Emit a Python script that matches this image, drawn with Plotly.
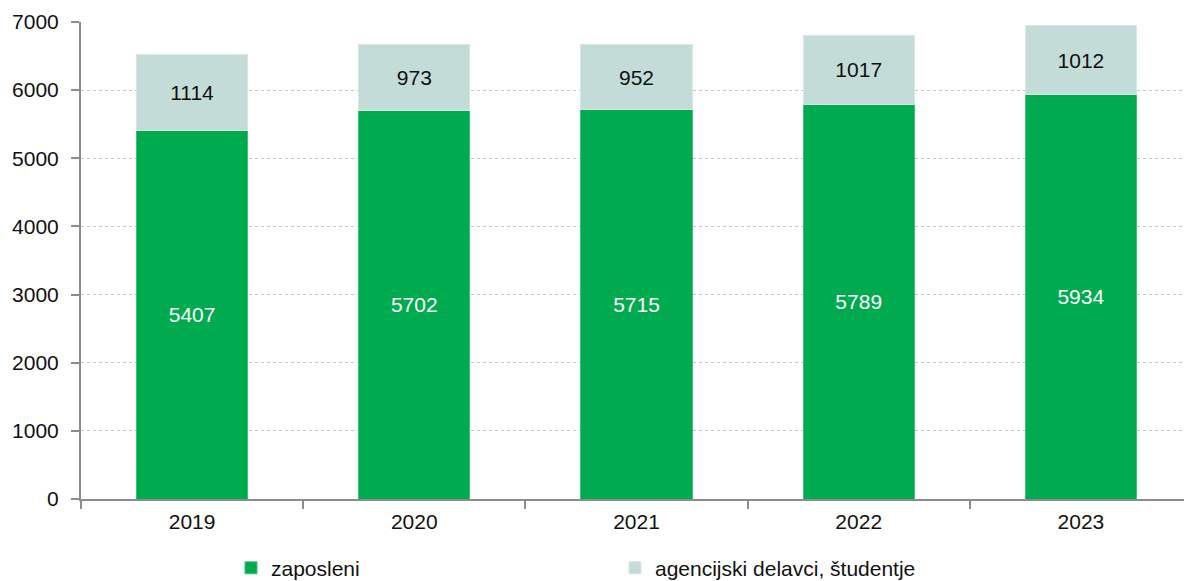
import plotly.graph_objects as go

years = ["2019", "2020", "2021", "2022", "2023"]
zaposleni = [5407, 5702, 5715, 5789, 5934]
agencijski = [1114, 973, 952, 1017, 1012]
series_names = ["zaposleni", "agencijski delavci, študentje"]
y_ticks = [0, 1000, 2000, 3000, 4000, 5000, 6000, 7000]

FONT = "Liberation Sans Narrow, Arial Narrow, Liberation Sans, Arial, sans-serif"
FS = 21

fig = go.Figure()
fig.add_trace(go.Bar(
    x=years, y=zaposleni, name=series_names[0],
    marker=dict(color="#00AA4E", line=dict(color="#3CC07A", width=1)),
    text=[str(v) for v in zaposleni], textposition="inside",
    insidetextanchor="middle",
    textfont=dict(color="white", size=FS, family=FONT),
))
fig.add_trace(go.Bar(
    x=years, y=agencijski, name=series_names[1],
    marker=dict(color="#C3DCD7", line=dict(color="#D5E8E3", width=1)),
    text=[str(v) for v in agencijski], textposition="inside",
    insidetextanchor="middle",
    textfont=dict(color="#111111", size=FS, family=FONT),
))

fig.update_layout(
    barmode="stack",
    bargap=0.5,
    width=1184, height=573,
    margin=dict(l=73, r=0, t=14, b=82, autoexpand=False),
    plot_bgcolor="white", paper_bgcolor="white",
    font=dict(family=FONT, size=FS, color="#111111"),
    uniformtext=dict(minsize=10, mode="show"),
    showlegend=True,
    legend=dict(
        orientation="h", x=0.135, y=-0.145, xanchor="left", yanchor="middle",
        entrywidth=339, entrywidthmode="pixels",
        font=dict(family=FONT, size=FS, color="#111111"),
        traceorder="normal",
    ),
    xaxis=dict(
        automargin=False,
        showline=True, linecolor="#8C8C8C", linewidth=2,
        ticks="outside", tickcolor="#8C8C8C", ticklen=8, tickwidth=2,
        tickson="boundaries", showgrid=False, ticklabelstandoff=3,
        tickfont=dict(family=FONT, size=FS, color="#111111"),
    ),
    yaxis=dict(
        automargin=False,
        range=[0, 7000], tickvals=y_ticks,
        showline=True, linecolor="#8C8C8C", linewidth=2,
        ticks="outside", tickcolor="#8C8C8C", ticklen=8, tickwidth=2,
        ticklabelstandoff=8,
        showgrid=True, gridcolor="#C8C8C8", gridwidth=1, griddash="dot",
        zeroline=False,
        tickfont=dict(family=FONT, size=FS, color="#111111"),
    ),
)

fig.write_html("out.html")
